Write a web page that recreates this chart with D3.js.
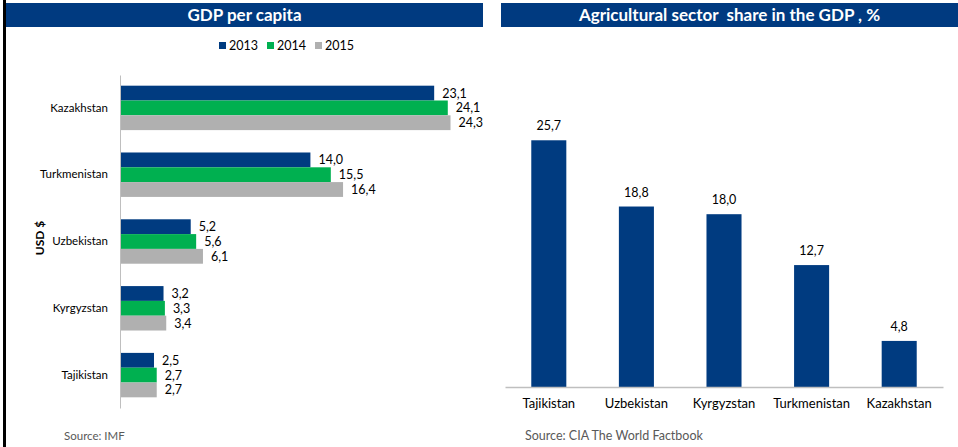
<!DOCTYPE html>
<html>
<head>
<meta charset="utf-8">
<script src="https://cdn.jsdelivr.net/npm/d3@7"></script>
<style>
  body { margin: 0; background: #fff; }
  svg { display: block; font-family: Lato, "Open Sans", sans-serif; }
</style>
</head>
<body>
<div class="svg-target"></div>
<script>
const w = 958;
const h = 447;

// GDP per capita, thousand USD
const countries = ['Kazakhstan', 'Turkmenistan', 'Uzbekistan', 'Kyrgyzstan', 'Tajikistan'];
const years = ['2013', '2014', '2015'];
const gdp2013 = [23.1, 14.0, 5.2, 3.2, 2.5];
const gdp2014 = [24.1, 15.5, 5.6, 3.3, 2.7];
const gdp2015 = [24.3, 16.4, 6.1, 3.4, 2.7];

// Agricultural sector share in GDP, %
const agriCountries = ['Tajikistan', 'Uzbekistan', 'Kyrgyzstan', 'Turkmenistan', 'Kazakhstan'];
const agriShare = [25.7, 18.8, 18.0, 12.7, 4.8];

const yearColors = ['#003B80', '#00B050', '#B0B0B0'];
const fmt = d => d3.format('.1f')(d).replace('.', ',');

const svg = d3.select('.svg-target')
    .append('svg')
    .attr('width', w)
    .attr('height', h);

// left frame line
svg.append('rect')
    .attr('x', 3).attr('y', 0)
    .attr('width', 3).attr('height', h)
    .attr('fill', '#000');

// title bars
const titles = [
    {x: 6, w: 477, text: 'GDP per capita'},
    {x: 501, w: 457, text: 'Agricultural sector  share in the GDP , %'}
];
titles.forEach(t => {
    svg.append('rect')
        .attr('x', t.x).attr('y', 3)
        .attr('width', t.w).attr('height', 24)
        .attr('fill', '#003A80');
    svg.append('text')
        .attr('x', t.x + t.w / 2).attr('y', 21)
        .attr('text-anchor', 'middle')
        .attr('fill', '#fff')
        .attr('font-size', 17)
        .attr('font-weight', 'bold')
        .style('white-space', 'pre')
        .text(t.text);
});

// ---- GDP per capita (horizontal grouped bars)
const gdpSeries = [gdp2013, gdp2014, gdp2015];

const legend = svg.append('g').attr('transform', 'translate(219, 46)');
years.forEach((yr, i) => {
    const g = legend.append('g').attr('transform', `translate(${i * 48}, 0)`);
    g.append('rect')
        .attr('x', 0).attr('y', -4)
        .attr('width', 7).attr('height', 7)
        .attr('fill', yearColors[i]);
    g.append('text')
        .attr('x', 10).attr('y', 4)
        .attr('font-size', 12.5)
        .attr('fill', '#000')
        .text(yr);
});

const xLeft = d3.scaleLinear()
    .domain([0, 24.3])
    .range([120, 450.5]);

const yBand = d3.scaleBand()
    .domain(countries)
    .range([75, 408])
    .paddingInner(0.335)
    .paddingOuter(0.16);

const ySub = d3.scaleBand()
    .domain(years)
    .range([0, yBand.bandwidth()]);

const groups = svg.selectAll('.grp')
    .data(countries)
    .enter()
    .append('g')
        .attr('class', 'grp')
        .attr('transform', d => `translate(0, ${yBand(d)})`);

groups.selectAll('rect')
    .data((d, i) => years.map((yr, j) => ({yr, j, v: gdpSeries[j][i]})))
    .enter()
    .append('rect')
        .attr('x', xLeft(0))
        .attr('y', d => ySub(d.yr))
        .attr('width', d => xLeft(d.v) - xLeft(0))
        .attr('height', ySub.bandwidth())
        .attr('fill', d => yearColors[d.j]);

groups.selectAll('text.val')
    .data((d, i) => years.map((yr, j) => ({yr, j, v: gdpSeries[j][i]})))
    .enter()
    .append('text')
        .attr('class', 'val')
        .attr('x', d => xLeft(d.v) + 8)
        .attr('y', d => ySub(d.yr) + ySub.bandwidth() / 2 + 4.5)
        .attr('font-size', 12.5)
        .attr('fill', '#000')
        .text(d => fmt(d.v));

const yAxis = d3.axisLeft(yBand).tickSize(0).tickPadding(12);
svg.append('g')
    .attr('transform', 'translate(120, 0)')
    .call(yAxis)
    .call(g => g.select('.domain').attr('stroke', '#BFBFBF'))
    .call(g => g.selectAll('text')
        .attr('font-size', 11.5)
        .attr('font-family', 'Lato, "Open Sans", sans-serif')
        .attr('fill', '#000'));

svg.append('text')
    .attr('transform', 'translate(44, 238) rotate(-90)')
    .attr('text-anchor', 'middle')
    .attr('font-size', 12)
    .attr('font-weight', 'bold')
    .text('USD $');

svg.append('text')
    .attr('x', 64).attr('y', 440)
    .attr('font-size', 11.5)
    .attr('fill', '#595959')
    .text('Source: IMF');

// ---- Agricultural share (vertical bars)
const xAgri = d3.scaleBand()
    .domain(agriCountries)
    .range([505, 943])
    .paddingInner(0.6)
    .paddingOuter(0.3);

const yAgri = d3.scaleLinear()
    .domain([0, 30])
    .range([387, 99]);

svg.selectAll('.agri')
    .data(agriCountries)
    .enter()
    .append('rect')
        .attr('class', 'agri')
        .attr('x', d => xAgri(d))
        .attr('y', (d, i) => yAgri(agriShare[i]))
        .attr('width', xAgri.bandwidth())
        .attr('height', (d, i) => yAgri(0) - yAgri(agriShare[i]))
        .attr('fill', '#003B80');

svg.selectAll('.agri-val')
    .data(agriCountries)
    .enter()
    .append('text')
        .attr('class', 'agri-val')
        .attr('x', d => xAgri(d) + xAgri.bandwidth() / 2)
        .attr('y', (d, i) => yAgri(agriShare[i]) - 10)
        .attr('text-anchor', 'middle')
        .attr('font-size', 12.5)
        .attr('fill', '#000')
        .text((d, i) => fmt(agriShare[i]));

const xAxis = d3.axisBottom(xAgri).tickSize(0).tickPadding(12);
svg.append('g')
    .attr('transform', `translate(0, ${yAgri(0)})`)
    .call(xAxis)
    .call(g => g.select('.domain').attr('stroke', '#BFBFBF').attr('stroke-width', 1.5))
    .call(g => g.selectAll('text')
        .attr('font-size', 13)
        .attr('font-family', 'Lato, "Open Sans", sans-serif')
        .attr('fill', '#000'));

svg.append('text')
    .attr('x', 525).attr('y', 440)
    .attr('font-size', 12.5)
    .attr('fill', '#595959')
    .text('Source: CIA The World Factbook');
</script>
</body>
</html>
